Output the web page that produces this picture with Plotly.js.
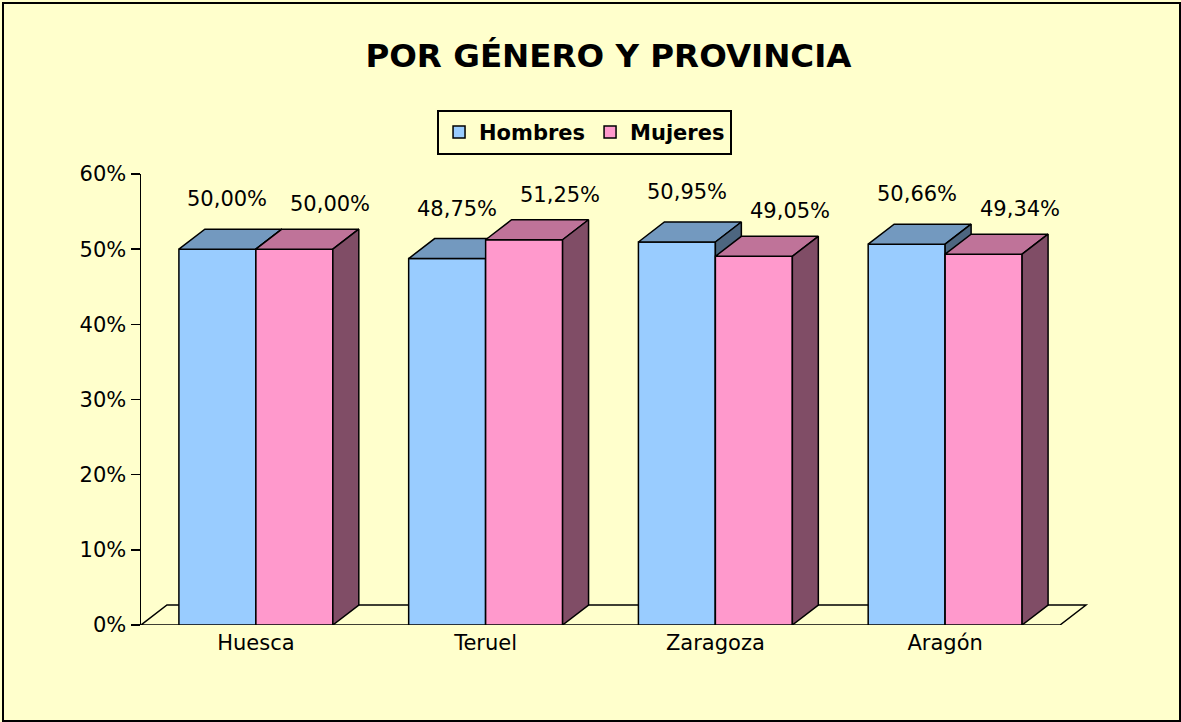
<!DOCTYPE html>
<html><head><meta charset="utf-8">
<script src="https://cdn.plot.ly/plotly-3.0.1.min.js"></script>
<style>
html,body{margin:0;padding:0;background:#FFFFCC;}
#chart{width:1181px;height:722px;}
#frame{position:absolute;left:2px;top:2px;width:1175px;height:716px;border:2px solid #000;box-sizing:content-box;pointer-events:none;}
</style>
</head><body>
<div id="chart"></div><div id="frame"></div>
<script>
// ---- data ----
const categories = ['Huesca', 'Teruel', 'Zaragoza', 'Aragón'];
const hombres = [50.00, 48.75, 50.95, 50.66];
const mujeres = [50.00, 51.25, 49.05, 49.34];
const seriesNames = ['Hombres', 'Mujeres'];
const yTickVals = [0, 10, 20, 30, 40, 50, 60];

// ---- style / geometry ----
const FONT = 'DejaVu Sans, Verdana, sans-serif';
const BG = '#FFFFCC';
const W = 0.335;          // bar width (category units)
const DX = 0.113;         // depth offset, x (category units)
const DY = 2.66;          // depth offset, y (percent units)
const XR = [-0.5, 3.674];
const LW = 1.5;
const colors = {
  Hombres: {front: '#99CCFF', top: '#7399BF', side: '#4D6680', xshift: 10, yshift: 50, axis: 'x'},
  Mujeres: {front: '#FF99CC', top: '#BF7399', side: '#804D66', xshift: 36, yshift: 45, axis: 'x2'}
};

function fmt(v) { return v.toFixed(2).replace('.', ',') + '%'; }

const traces = [];
const annotations = [];
const idx = categories.map((c, i) => i);

[[seriesNames[0], hombres, -W], [seriesNames[1], mujeres, 0]].forEach(([name, vals, off]) => {
  const st = colors[name];
  traces.push({
    type: 'bar', name: name, x: idx, y: vals, width: W, offset: off,
    xaxis: st.axis, yaxis: 'y',
    marker: {color: st.front, line: {color: '#000', width: LW}},
    hoverinfo: 'skip'
  });
  const tx = [], ty = [], sx = [], sy = [];
  vals.forEach((v, i) => {
    const x0 = i + off, x1 = i + off + W;
    tx.push(x0, x1, x1 + DX, x0 + DX, x0, null);
    ty.push(v, v, v + DY, v + DY, v, null);
    sx.push(x1, x1, x1 + DX, x1 + DX, x1, null);
    sy.push(0, v, v + DY, DY, 0, null);
    annotations.push({
      xref: st.axis, yref: 'y', x: x0 + W / 2, y: v, text: fmt(v),
      showarrow: false, xshift: st.xshift, yshift: st.yshift,
      xanchor: 'center', yanchor: 'middle',
      font: {family: FONT, size: 21, color: '#000'}
    });
  });
  traces.push({
    type: 'scatter', mode: 'lines', x: tx, y: ty, fill: 'toself', fillcolor: st.top,
    line: {color: '#000', width: LW}, xaxis: st.axis, yaxis: 'y',
    showlegend: false, hoverinfo: 'skip'
  });
  traces.push({
    type: 'scatter', mode: 'lines', x: sx, y: sy, fill: 'toself', fillcolor: st.side,
    line: {color: '#000', width: LW}, xaxis: st.axis, yaxis: 'y',
    showlegend: false, hoverinfo: 'skip'
  });
});

const nCat = categories.length;
const floorPath = `M ${-0.5},0 L ${nCat - 0.5},0 L ${nCat - 0.5 + DX},${DY} L ${-0.5 + DX},${DY} Z`;

const layout = {
  width: 1181, height: 722,
  paper_bgcolor: BG, plot_bgcolor: 'rgba(0,0,0,0)',
  margin: {l: 141, r: 81, t: 174, b: 97},
  showlegend: true,
  title: {
    text: 'POR GÉNERO Y PROVINCIA',
    font: {family: FONT, size: 32.5, weight: 'bold', color: '#000'},
    xref: 'container', yref: 'container', x: 0.5152, y: 0.9224,
    xanchor: 'center', yanchor: 'middle'
  },
  legend: {
    orientation: 'h', xref: 'paper', yref: 'paper', x: 0.4625, y: 1.142,
    xanchor: 'center', yanchor: 'top',
    bgcolor: BG, bordercolor: '#000', borderwidth: 2,
    font: {family: FONT, size: 21, weight: 'bold', color: '#000'},
    traceorder: 'normal', itemwidth: 30
  },
  xaxis: {
    range: XR, tickmode: 'array', tickvals: idx, ticktext: categories,
    showline: false, showgrid: false, zeroline: false, ticks: '',
    ticklabelstandoff: 3,
    tickfont: {family: FONT, size: 21, color: '#000'}, fixedrange: true
  },
  xaxis2: {range: XR, overlaying: 'x', visible: false, fixedrange: true},
  yaxis: {
    range: [0, 60], tickmode: 'array', tickvals: yTickVals,
    ticktext: yTickVals.map(v => v + '%'),
    showline: true, linecolor: '#000', linewidth: LW,
    ticks: 'outside', ticklen: 9, tickwidth: LW, tickcolor: '#000',
    showgrid: false, zeroline: false,
    tickfont: {family: FONT, size: 21, color: '#000'}, fixedrange: true
  },
  shapes: [{
    type: 'path', xref: 'x', yref: 'y', path: floorPath, layer: 'below',
    fillcolor: BG, line: {color: '#000', width: LW}
  }],
  annotations: annotations
};

Plotly.newPlot('chart', traces, layout, {displayModeBar: false, staticPlot: true});
</script>
</body></html>
